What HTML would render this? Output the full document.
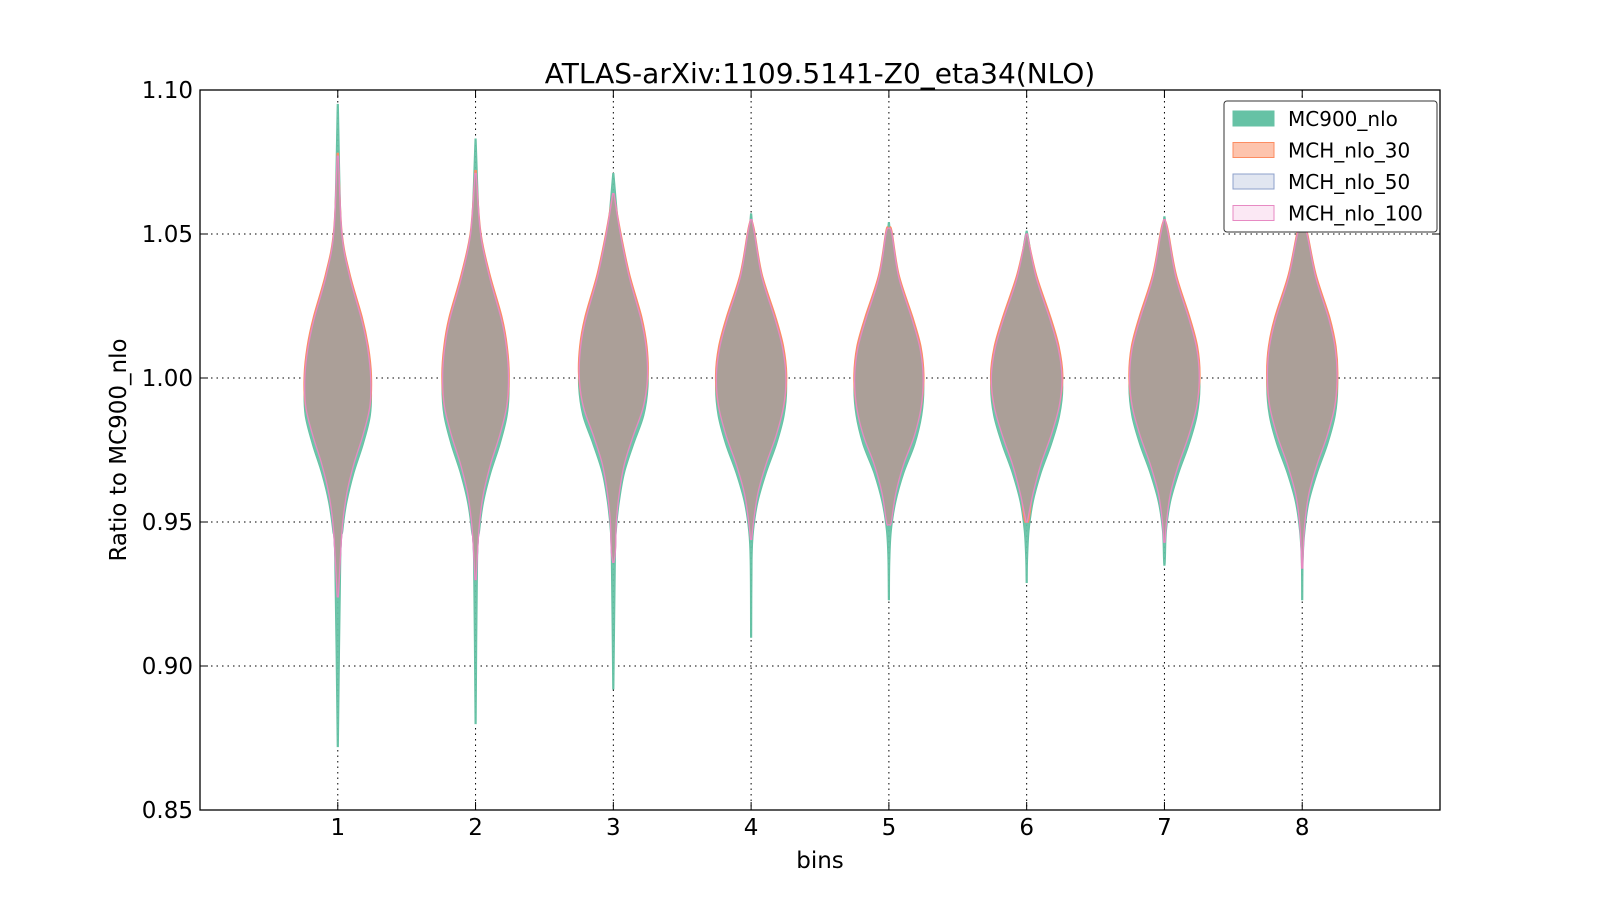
<!DOCTYPE html>
<html><head><meta charset="utf-8"><style>
body{margin:0;background:#fff;}
svg text{font-family:"DejaVu Sans","Liberation Sans",sans-serif;fill:#000;}
</style></head><body>
<svg id="chart" width="1600" height="900" xmlns="http://www.w3.org/2000/svg">
<rect width="1600" height="900" fill="#fff"/>
<g id="grid"></g>
<g id="violins"></g>
<rect x="200" y="90" width="1240" height="720" fill="none" stroke="#000" stroke-width="1.3"/>
<g id="axes"></g>
<text x="820" y="83" font-size="28" text-anchor="middle">ATLAS-arXiv:1109.5141-Z0_eta34(NLO)</text>
<text x="820" y="868" font-size="23" text-anchor="middle">bins</text>
<text transform="translate(126,450) rotate(-90)" font-size="23" text-anchor="middle">Ratio to MC900_nlo</text>
<g>
<rect x="1224" y="101" width="213" height="131" rx="3" fill="#fff" stroke="#333" stroke-width="1"/>
<g id="legend"></g>
</g>
</svg>
<script>
const bins=[1,2,3,4,5,6,7,8];
const levels=[1.05,1.035,1.02,1.01,1.0,0.99,0.98,0.97,0.96,0.95,0.94];
const widths=[
[0.030,0.089,0.178,0.222,0.244,0.237,0.185,0.118,0.067,0.037,0.022],
[0.037,0.104,0.193,0.230,0.244,0.230,0.178,0.111,0.059,0.030,0.015],
[0.052,0.118,0.207,0.244,0.252,0.222,0.148,0.081,0.044,0.022,0.015],
[0.025,0.080,0.180,0.235,0.258,0.240,0.185,0.110,0.050,0.018,0.007],
[0.022,0.073,0.174,0.232,0.254,0.239,0.189,0.109,0.051,0.018,0.007],
[0.020,0.070,0.175,0.235,0.262,0.240,0.180,0.105,0.048,0.018,0.007],
[0.028,0.085,0.185,0.240,0.258,0.238,0.180,0.105,0.045,0.015,0.007],
[0.035,0.100,0.200,0.245,0.258,0.240,0.185,0.110,0.050,0.020,0.007]];
const seriesNames=["MC900_nlo","MCH_nlo_30","MCH_nlo_50","MCH_nlo_100"];
const seriesTop=[
[1.095,1.083,1.071,1.057,1.054,1.051,1.056,1.055],
[1.078,1.072,1.064,1.055,1.052,1.050,1.055,1.053],
[1.076,1.070,1.063,1.054,1.051,1.049,1.054,1.052],
[1.077,1.071,1.064,1.055,1.052,1.050,1.055,1.053]];
const seriesBottom=[
[0.872,0.880,0.892,0.910,0.923,0.929,0.935,0.923],
[0.925,0.932,0.937,0.945,0.950,0.950,0.945,0.935],
[0.926,0.931,0.938,0.946,0.950,0.951,0.944,0.936],
[0.924,0.930,0.936,0.944,0.949,0.950,0.943,0.934]];
const seriesShift=[-0.003,0.001,0.0,0.0];
const seriesScale=[1.0,1.0,0.97,0.98];
const strokes=["#66c2a5","#fc8d62","#8da0cb","#e78ac3"];
const fills=["#66c2a5","#ab9f98","#ab9f98","#ab9f98"];
const legFills=["#66c2a5","#fdc4ad","#e1e6f1","#fbe8f4"];
const yTicks=[0.85,0.90,0.95,1.00,1.05,1.10];
const yTickLabels=["0.85","0.90","0.95","1.00","1.05","1.10"];

const PX=1240/9;
const X=v=>200+v*PX;
const Y=v=>90+(1.10-v)*(720/0.25);
const NS="http://www.w3.org/2000/svg";
function mk(t,a,p){const e=document.createElementNS(NS,t);for(const k in a)e.setAttribute(k,a[k]);p.appendChild(e);return e;}
const grid=document.getElementById('grid'),axes=document.getElementById('axes');
bins.forEach(b=>{
  const g=mk('line',{x1:X(b),x2:X(b),y1:90,y2:810,stroke:'#000','stroke-width':1,'stroke-dasharray':'1.5,4'},grid);
  
  
  const t=mk('line',{x1:X(b),x2:X(b),y1:810,y2:802,stroke:'#000'},axes);
  
  
  const t2=mk('line',{x1:X(b),x2:X(b),y1:90,y2:98,stroke:'#000'},axes);
  
  
  const l=mk('text',{x:X(b),y:835,'font-size':23,'text-anchor':'middle'},axes);
  l.textContent=b;
  
  
});
yTicks.forEach((v,i)=>{
  if(i>0&&i<yTicks.length-1){
  const g=mk('line',{x1:200,x2:1440,y1:Y(v),y2:Y(v),stroke:'#000','stroke-width':1,'stroke-dasharray':'1.5,4'},grid);
  
  }
  const t=mk('line',{x1:200,x2:208,y1:Y(v),y2:Y(v),stroke:'#000'},axes);
  
  
  const t2=mk('line',{x1:1432,x2:1440,y1:Y(v),y2:Y(v),stroke:'#000'},axes);
  
  
  const l=mk('text',{x:193,y:Y(v)+8,'font-size':23,'text-anchor':'end'},axes);
  l.textContent=yTickLabels[i];
  
  
});
function smooth(pts){
  let d='M'+pts[0][0]+','+pts[0][1];
  for(let i=0;i<pts.length-1;i++){
    const p0=pts[Math.max(0,i-1)],p1=pts[i],p2=pts[i+1],p3=pts[Math.min(pts.length-1,i+2)];
    const c1=[p1[0]+(p2[0]-p0[0])/6,p1[1]+(p2[1]-p0[1])/6],c2=[p2[0]-(p3[0]-p1[0])/6,p2[1]-(p3[1]-p1[1])/6];
    d+=' C'+c1[0].toFixed(1)+','+c1[1].toFixed(1)+' '+c2[0].toFixed(1)+','+c2[1].toFixed(1)+' '+p2[0].toFixed(1)+','+p2[1].toFixed(1);
  }
  return d;
}
const vg=document.getElementById('violins');
seriesNames.forEach((s,si)=>{
  bins.forEach((b,bi)=>{
    const cx=X(b);
    const top=seriesTop[si][bi],bot=seriesBottom[si][bi];
    const right=[[cx+0.6,Y(top)]];
    levels.forEach((lv,li)=>{const y=lv+seriesShift[si];if(y<top&&y>bot)right.push([cx+Math.max(0.6,widths[bi][li]*PX*seriesScale[si]),Y(y)]);});
    right.push([cx+0.6,Y(bot)]);
    const left=right.slice().reverse().map(p=>[2*cx-p[0],p[1]]);
    const d=smooth(right)+' L'+left[0][0].toFixed(1)+','+left[0][1].toFixed(1)+smooth(left).replace(/^M[^C]*/,'')+' Z';
    const p=mk('path',{d:d,fill:fills[si],stroke:strokes[si],'stroke-width':si==0?1:1.3,'fill-opacity':si==0?0.95:1},vg);
    
    
  });
});
const lg=document.getElementById('legend');
seriesNames.forEach((s,i)=>{
  const y=111+i*31.5;
  const r=mk('rect',{x:1233,y:y,width:41,height:15,fill:legFills[i],stroke:strokes[i],'stroke-width':1},lg);
  
  
  const t=mk('text',{x:1288,y:y+15,'font-size':20},lg);
  t.textContent=s;
  
  
});
</script>
</body></html>
